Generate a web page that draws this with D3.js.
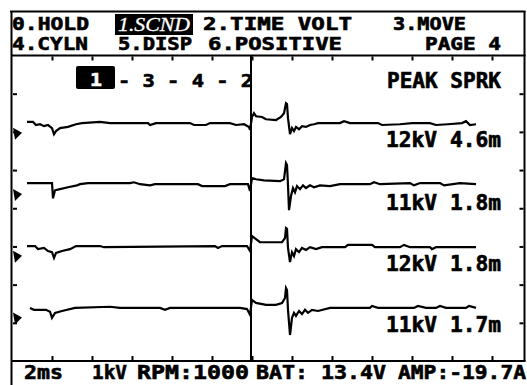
<!DOCTYPE html>
<html>
<head>
<meta charset="utf-8">
<script src="https://cdn.jsdelivr.net/npm/d3@7"></script>
<style>
  html, body { margin: 0; padding: 0; background: #fff; }
  svg { display: block; }
  text { font-family: "DejaVu Sans Mono", "Liberation Mono", monospace; font-weight: bold; fill: #000;
         stroke: #000; stroke-width: 0.6px; }
</style>
</head>
<body>
<svg id="scope" width="527" height="385"></svg>
<script>
// Secondary ignition parade, 2 ms/div, 1 kV/div
const firingOrder = ["1", "3", "4", "2"];
const peakKV = [12, 11, 12, 11];
const burnMs = [4.6, 1.8, 1.8, 1.7];

const menuRow1 = ["0.HOLD", "1.SCND", "2.TIME VOLT", "3.MOVE"];
const menuRow2 = ["4.CYLN", "5.DISP", "6.POSITIVE", "PAGE 4"];
const statusRow = ["2ms", "1kV", "RPM:1000", "BAT: 13.4V", "AMP:-19.7A"];

const timeTicks = [2, 4, 6, 8, 10, 12, 14, 16, 18, 20, 22, 24];  // ms
const voltTicks = [1, 2, 3, 4, 5, 6, 7];                          // kV divisions
const cursorMs = 11.95;

// Waveform samples per cylinder: [time ms, kV relative to the trace's zero]
const trace1 = [
  [0.75,0.03],[1.05,0.03],[1.2,-0.05],[1.4,-0.03],[1.6,-0.08],[1.8,-0.05],[2.0,-0.13],[2.1,-0.29],
  [2.2,-0.21],[2.4,-0.13],[2.8,-0.10],[3.2,-0.03],[3.5,0],[4.4,0.03],[4.9,0],[6.8,0],[6.9,-0.05],
  [7.2,0],[8.9,0],[9.1,-0.05],[9.7,-0.05],[9.9,0],[10.9,0],[11.2,-0.05],[11.6,-0.03],[11.85,-0.1],
  [11.9,-0.18],[12.0,0.16],[12.1,0.26],[12.2,0.18],[12.5,0.16],[12.7,0.10],[13.2,0.08],[13.45,0.16],
  [13.6,0.26],[13.7,0.52],[13.75,0.50],[13.8,0.13],[13.9,-0.29],[14.0,-0.13],[14.1,-0.21],[14.2,-0.1],
  [14.35,-0.16],[14.5,-0.08],[14.7,-0.1],[14.9,-0.05],[15.1,-0.03],[15.3,0],[16.4,0],[16.6,0.05],
  [16.9,0],[18.3,0],[18.5,-0.05],[19.4,-0.03],[20.0,0],[20.9,0],[21.2,-0.05],[21.8,-0.03],[22.5,0],
  [22.7,0.05],[22.9,-0.05],[23.2,-0.03]
];
const trace2 = [
  [0.75,0.03],[1.9,0.03],[2.0,0.03],[2.05,-0.37],[2.15,-0.16],[2.4,-0.13],[2.8,-0.08],[3.25,-0.03],
  [3.4,0],[3.8,0.03],[5.9,0.03],[6.1,0.05],[6.4,0],[6.9,-0.03],[7.15,0],[9.3,0],[9.5,-0.05],
  [10.65,-0.05],[10.9,0],[11.8,0],[11.9,-0.18],[12.0,0.16],[12.2,0.13],[12.6,0.10],[13.4,0.08],
  [13.6,0.13],[13.7,0.55],[13.75,0.50],[13.8,-0.03],[13.85,-0.68],[13.95,-0.31],[14.05,-0.10],
  [14.15,-0.21],[14.25,-0.05],[14.4,-0.13],[14.55,-0.03],[14.7,-0.10],[14.9,-0.03],[15.1,-0.08],
  [15.4,-0.03],[15.9,-0.05],[16.4,0],[17.9,0],[18.1,0.05],[18.4,0],[19.9,0.03],[20.1,-0.03],
  [20.4,0.03],[21.4,0.03],[21.6,-0.03],[22.4,0.03],[23.2,0]
];
const trace3 = [
  [0.75,0],[1.15,0],[1.3,-0.08],[1.6,-0.05],[1.8,-0.13],[2.0,-0.16],[2.1,-0.31],[2.2,-0.18],
  [2.5,-0.13],[2.9,-0.08],[3.2,0],[4.4,0],[4.6,-0.03],[10.15,0],[10.3,-0.05],[10.5,0],[11.75,0],
  [11.9,-0.13],[12.0,0.26],[12.2,0.18],[12.4,0.10],[13.5,0.10],[13.65,0.21],[13.7,0.47],[13.75,0.45],
  [13.8,-0.05],[13.9,-0.42],[14.0,-0.16],[14.1,-0.26],[14.2,-0.08],[14.35,-0.16],[14.5,-0.05],
  [14.7,-0.10],[14.9,-0.03],[15.2,-0.08],[15.5,-0.03],[16.65,-0.03],[16.8,0.03],[18.0,0.03],
  [18.15,-0.03],[19.4,-0.03],[19.6,0.03],[19.9,-0.03],[20.9,-0.03],[21.0,-0.08],[21.2,-0.03],[23.2,-0.03]
];
const trace4 = [
  [0.9,0],[1.1,-0.05],[1.7,-0.05],[1.9,-0.10],[2.0,-0.26],[2.15,-0.13],[2.5,-0.08],[3.15,0],
  [4.9,0.03],[5.4,0],[7.4,0],[7.65,-0.05],[7.9,0],[11.4,0],[11.75,-0.03],[11.9,-0.18],[12.0,0.21],
  [12.2,0.13],[12.7,0.08],[13.2,0.08],[13.5,0.13],[13.65,0.26],[13.7,0.52],[13.75,0.47],[13.8,-0.05],
  [13.9,-0.71],[14.0,-0.26],[14.1,-0.13],[14.2,-0.21],[14.35,-0.08],[14.5,-0.16],[14.65,-0.05],
  [14.8,-0.13],[15.0,-0.05],[15.3,-0.08],[15.9,0],[17.9,0],[18.0,0.05],[18.3,0],[20.1,0],[20.3,0.05],
  [20.7,0],[21.2,0],[21.4,0.05],[21.7,0],[22.7,0],[22.85,0.05],[23.2,0]
];
const traces = [trace1, trace2, trace3, trace4];

// Layout
const plot = { left: 12, right: 524.5, top: 55.5, bottom: 361 };
const traceZero = [6.23, 4.63, 3.01, 1.39];   // vertical position of each trace, in divisions
const labelBase = [147, 210, 271, 332];

const svg = d3.select("#scope");
svg.append("rect").attr("width", 527).attr("height", 385).attr("fill", "#fff");

const x = d3.scaleLinear().domain([0, 25.625]).range([plot.left, plot.right]);
const y = d3.scaleLinear().domain([0, 8]).range([plot.bottom, plot.top]);

function label(txt, x0, x1, base, size, extra) {
  const t = svg.append("text")
    .attr("x", x0).attr("y", base)
    .attr("font-size", size)
    .attr("textLength", x1 - x0)
    .attr("lengthAdjust", "spacingAndGlyphs")
    .text(txt);
  if (extra) extra(t);
  return t;
}

// Frame
const frame = svg.append("g").attr("stroke", "#000").attr("stroke-width", 2).attr("fill", "none");
frame.append("line").attr("x1", 10).attr("x2", 525.5).attr("y1", 11.5).attr("y2", 11.5);
frame.append("line").attr("x1", 11.5).attr("x2", 11.5).attr("y1", 11).attr("y2", 385);
frame.append("line").attr("x1", plot.right).attr("x2", plot.right).attr("y1", 11).attr("y2", plot.bottom);
frame.append("line").attr("x1", 11).attr("x2", 525.5).attr("y1", plot.top).attr("y2", plot.top);
frame.append("line").attr("x1", 11).attr("x2", 525.5).attr("y1", plot.bottom).attr("y2", plot.bottom);

// Division ticks on all four edges
function ticks(axis, tx, ty) {
  const g = svg.append("g").attr("transform", `translate(${tx},${ty})`).call(axis);
  g.select(".domain").remove();
  g.selectAll(".tick line").attr("stroke", "#000").attr("stroke-width", 2);
  g.selectAll(".tick text").remove();
}
ticks(d3.axisTop(x).tickValues(timeTicks).tickSize(-4).tickFormat(""), 0, plot.top + 1);
ticks(d3.axisBottom(x).tickValues(timeTicks).tickSize(-4).tickFormat(""), 0, plot.bottom - 1);
ticks(d3.axisLeft(y).tickValues(voltTicks).tickSize(-4).tickFormat(""), plot.left + 1, 0);
ticks(d3.axisRight(y).tickValues(voltTicks).tickSize(-4).tickFormat(""), plot.right - 1, 0);

// Menu
label(menuRow1[0], 12, 89, 30, 17);
svg.append("rect").attr("x", 115).attr("y", 14).attr("width", 78).attr("height", 21).attr("fill", "#000");
label(menuRow1[1], 118, 190, 31, 19, t => t.style("fill", "#fff").style("stroke", "#fff").style("stroke-width", "0.3px")
  .style("font-family", "'Liberation Serif', serif").style("font-style", "italic").style("font-weight", "normal"));
label(menuRow1[2], 203, 352, 30, 17);
label(menuRow1[3], 393, 466, 30, 17);
label(menuRow2[0], 12, 88, 50, 17);
label(menuRow2[1], 118, 192, 50, 17);
label(menuRow2[2], 208, 342, 50, 17);
label(menuRow2[3], 425, 501, 50, 17);

// Firing order with the selected cylinder highlighted
svg.append("rect").attr("x", 76).attr("y", 66).attr("width", 39).attr("height", 23).attr("rx", 2).attr("fill", "#000");
label(firingOrder[0], 90, 102, 86, 18, t => t.style("fill", "#fff").style("stroke", "#fff"));
label("- " + firingOrder.slice(1).join(" - "), 118, 253, 87, 18);

label("PEAK SPRK", 387, 501, 88, 20.5);

// Traces
const line = d3.line().x(d => x(d[0])).y(d => d[1]);
traces.forEach((tr, i) => {
  svg.append("path")
    .attr("d", line(tr.map(p => [p[0], y(traceZero[i] + p[1])])))
    .attr("fill", "none").attr("stroke", "#000").attr("stroke-width", 2.2)
    .attr("stroke-linejoin", "miter");
  // zero reference marker at the left edge
  const my = y(traceZero[i] - 0.28);
  svg.append("path")
    .attr("d", `M13,${my - 6}L22,${my - 1}L15,${my + 6}Z`)
    .attr("fill", "#000");
  label(`${peakKV[i]}kV ${burnMs[i].toFixed(1)}m`, 386, 501, labelBase[i], 20.5);
});

// Cursor
svg.append("line")
  .attr("x1", x(cursorMs)).attr("x2", x(cursorMs))
  .attr("y1", plot.top).attr("y2", plot.bottom)
  .attr("stroke", "#000").attr("stroke-width", 2);

// Status line
label(statusRow[0], 24, 63, 379, 19);
label(statusRow[1], 92, 127, 379, 19);
label(statusRow[2], 137, 249, 379, 19);
label(statusRow[3], 256, 386, 379, 19);
label(statusRow[4], 398, 526, 379, 19);
</script>
</body>
</html>
